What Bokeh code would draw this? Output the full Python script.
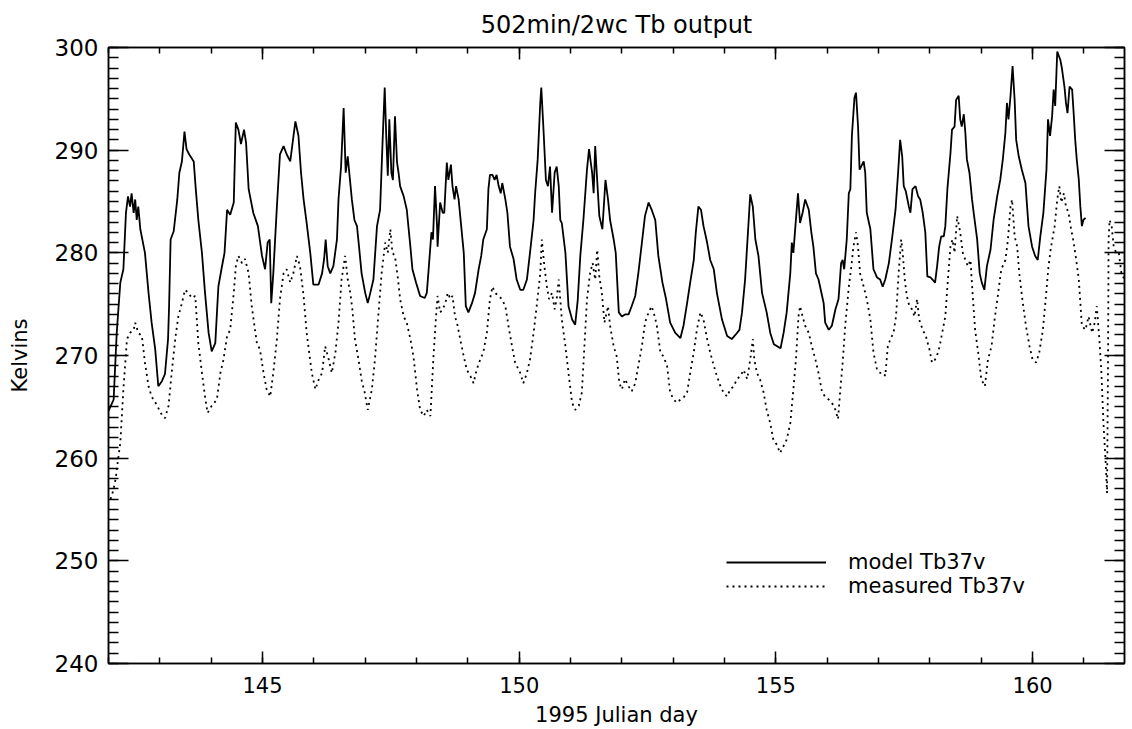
from bokeh.plotting import figure
from bokeh.models import (Range1d, LinearAxis, SingleIntervalTicker, Legend, LegendItem,
                          CustomLabelingPolicy)
from bokeh.embed import file_html
from bokeh.resources import INLINE

# ---------------- data ----------------
model_day = [
    142.00, 142.10, 142.16, 142.23, 142.29, 142.34, 142.38, 142.42, 142.45, 142.49, 142.52, 142.55, 142.58, 142.62,
    142.71, 142.78, 142.84, 142.91, 142.97, 143.04, 143.10, 143.16, 143.18, 143.21, 143.27, 143.34, 143.38, 143.43,
    143.48, 143.52, 143.57, 143.66, 143.70, 143.75, 143.82, 143.88, 143.95, 144.01, 144.08, 144.14, 144.20, 144.26,
    144.31, 144.37, 144.44, 144.48, 144.53, 144.58, 144.64, 144.68, 144.73, 144.82, 144.91, 144.99, 145.05, 145.10,
    145.14, 145.17, 145.21, 145.28, 145.34, 145.41, 145.47, 145.54, 145.64, 145.70, 145.75, 145.80, 145.86, 145.93,
    145.99, 146.09, 146.16, 146.20, 146.23, 146.27, 146.32, 146.38, 146.45,
    146.48, 146.53, 146.58, 146.62, 146.66, 146.69, 146.74, 146.79, 146.84, 146.88, 146.93, 147.00, 147.05, 147.10,
    147.16, 147.23, 147.29, 147.34, 147.38, 147.41, 147.44, 147.47, 147.51, 147.54, 147.58, 147.62, 147.65, 147.68,
    147.75, 147.81, 147.88, 147.92, 147.99, 148.07, 148.16, 148.20, 148.23, 148.29, 148.32, 148.36, 148.40, 148.41,
    148.46, 148.51, 148.54, 148.59, 148.62, 148.67, 148.70, 148.74, 148.77, 148.82, 148.87, 148.92, 148.96, 149.01,
    149.08, 149.14, 149.21, 149.26, 149.30, 149.37, 149.40, 149.43, 149.48, 149.52, 149.56, 149.60, 149.64, 149.67,
    149.73, 149.77, 149.82, 149.89, 149.95, 150.02, 150.08, 150.15, 150.21, 150.28, 150.31, 150.36, 150.41, 150.43,
    150.47, 150.52, 150.56, 150.60, 150.64, 150.69, 150.73, 150.77, 150.80, 150.83, 150.90, 150.96, 151.03, 151.09,
    151.14,
    151.19, 151.25, 151.32, 151.36, 151.42, 151.45, 151.48, 151.51, 151.56, 151.62, 151.68, 151.73, 151.77, 151.84,
    151.88, 151.94, 152.00, 152.06, 152.13, 152.19, 152.26, 152.32, 152.39, 152.45, 152.52, 152.58, 152.65, 152.71,
    152.79, 152.86, 152.94, 153.04, 153.14, 153.20, 153.27, 153.33, 153.40, 153.44, 153.49, 153.54, 153.59, 153.66,
    153.72, 153.79, 153.85, 153.95, 154.05, 154.14, 154.21, 154.29, 154.34, 154.40, 154.47, 154.50, 154.55, 154.60,
    154.66, 154.73, 154.82, 154.89, 154.96, 155.09, 155.15, 155.21, 155.28, 155.31, 155.34, 155.38, 155.43, 155.47,
    155.52, 155.57, 155.64, 155.69, 155.73, 155.78,
    155.83, 155.90, 155.93, 155.96, 156.03, 156.09, 156.16, 156.22, 156.27, 156.30, 156.33, 156.38, 156.42, 156.45,
    156.48, 156.53, 156.56, 156.60, 156.63, 156.66, 156.71, 156.74, 156.77, 156.84, 156.90, 156.97, 157.03, 157.08,
    157.13, 157.20, 157.26, 157.33, 157.38, 157.42, 157.46, 157.49, 157.53, 157.59, 157.62, 157.66, 157.72, 157.77,
    157.81, 157.86, 157.91, 157.95, 158.01, 158.05, 158.10, 158.14, 158.18, 158.22, 158.27, 158.30, 158.34, 158.40,
    158.43, 158.48, 158.51, 158.56, 158.59, 158.62, 158.66, 158.69, 158.72, 158.77, 158.82, 158.86, 158.92, 158.97,
    159.01, 159.06, 159.11, 159.18, 159.24, 159.31, 159.37, 159.42, 159.47, 159.50, 159.53, 159.57, 159.61, 159.65,
    159.68, 159.73, 159.79, 159.86, 159.92, 159.99, 160.05, 160.10, 160.15, 160.21, 160.27, 160.30, 160.34, 160.38,
    160.41, 160.44, 160.48, 160.51, 160.54, 160.57, 160.62, 160.65, 160.68, 160.72, 160.77, 160.80, 160.83, 160.86,
    160.90, 160.93, 160.96, 160.99, 161.03,
]
model_tb = [
    264.6, 265.7, 272.2, 277.1, 278.4, 283.9, 285.5, 284.5, 285.8, 283.9, 285.2, 283.2, 284.5, 282.3,
    280.0, 276.1, 273.2, 270.6, 267.0, 267.5, 268.2, 271.6, 274.8, 281.3, 282.1, 285.2, 287.8, 288.9,
    291.8, 290.1, 289.6, 288.9, 286.2, 283.2, 280.0, 276.1, 272.2, 270.4, 271.2, 276.7, 278.4, 280.0,
    284.2, 283.7, 284.9, 292.7, 292.0, 290.6, 292.0, 290.7, 286.2, 283.9, 282.6, 279.7, 278.4, 281.0,
    281.3, 275.1, 278.0, 284.5, 289.6, 290.4, 289.6, 288.9, 292.8, 291.4, 287.8, 285.2, 282.9, 280.0,
    276.9, 276.9, 278.0, 279.4, 281.3, 278.7, 278.0, 278.7, 281.3,
    285.2, 288.4, 294.1, 287.8, 289.4, 287.8, 285.2, 283.2, 282.6, 280.6, 278.0, 276.1, 275.1, 276.1,
    277.4, 282.6, 284.2, 291.0, 296.1, 291.4, 287.5, 293.0, 287.8, 287.1, 293.3, 288.8, 287.8, 286.5,
    285.5, 284.2, 280.6, 278.4, 277.1, 275.8, 275.6, 276.1, 278.0, 282.0, 281.3, 286.5, 282.6, 280.6,
    284.9, 283.9, 283.9, 288.8, 287.1, 288.6, 286.5, 285.2, 286.5, 285.2, 282.6, 280.0, 274.8, 274.2,
    275.1, 276.1, 278.4, 279.7, 281.3, 282.3, 286.2, 287.6, 287.6, 287.1, 287.6, 286.5, 285.8, 286.8,
    285.2, 283.9, 280.6, 279.4, 277.4, 276.4, 276.4, 277.4, 280.0, 283.2, 285.8, 289.1, 294.6, 296.1,
    292.3, 287.1, 286.5, 288.4, 283.9, 287.8, 288.4, 286.5, 283.2, 282.9, 280.0, 274.8, 273.5, 273.0,
    275.4,
    279.7, 283.2, 288.1, 290.1, 287.8, 285.8, 290.4, 287.8, 283.6, 282.3, 287.1, 285.2, 283.2, 281.3,
    280.0, 274.2, 273.8, 274.0, 274.0, 274.8, 275.8, 278.0, 281.0, 283.6, 284.9, 284.2, 283.2, 279.7,
    277.1, 275.5, 273.2, 272.2, 271.7, 272.9, 275.1, 277.1, 279.3, 282.0, 284.5, 284.2, 282.6, 281.0,
    279.3, 278.4, 276.1, 273.5, 271.9, 271.6, 272.0, 272.5, 274.2, 277.4, 283.2, 285.7, 284.5, 281.3,
    279.7, 276.1, 274.2, 272.2, 271.1, 270.7, 272.2, 274.2, 278.0, 281.0, 280.0, 282.6, 285.8, 282.9,
    283.9, 285.2, 284.2, 282.0, 280.6, 278.0,
    277.4, 275.8, 275.1, 273.2, 272.5, 272.9, 274.5, 275.5, 279.0, 279.3, 278.4, 281.3, 285.8, 286.2,
    291.4, 295.1, 295.6, 292.3, 288.1, 288.4, 288.9, 287.8, 283.9, 282.3, 278.4, 277.6, 277.4, 276.7,
    277.4, 279.0, 281.3, 284.2, 287.8, 291.0, 289.4, 286.5, 286.0, 284.5, 283.9, 286.2, 286.5, 285.5,
    285.2, 283.9, 282.0, 277.7, 277.6, 277.4, 277.1, 278.7, 280.6, 281.6, 281.6, 282.6, 286.2, 289.7,
    292.0, 292.3, 294.9, 295.3, 293.0, 292.3, 293.5, 291.7, 289.1, 287.8, 285.2, 283.6, 281.3, 278.0,
    277.1, 276.4, 278.7, 280.3, 283.2, 285.5, 287.1, 289.1, 291.7, 294.6, 293.0, 295.3, 298.2, 294.9,
    291.0, 289.4, 288.1, 286.8, 282.6, 280.6, 279.7, 279.3, 281.6, 283.9, 288.1, 293.0, 291.4, 293.3,
    295.9, 294.3, 299.6, 299.2, 298.8, 298.0, 296.2, 294.6, 293.6, 296.2, 295.9, 293.6, 291.0, 289.1,
    287.1, 284.5, 282.6, 283.2, 283.4,
]

meas_day = [
    142.04, 142.09, 142.14, 142.19, 142.23, 142.29, 142.36, 142.42, 142.49, 142.52, 142.58, 142.65, 142.71, 142.78,
    142.84, 142.94, 143.04, 143.10, 143.17, 143.23, 143.30, 143.36, 143.43, 143.49, 143.56, 143.62, 143.69, 143.75,
    143.82, 143.88, 143.93, 144.01, 144.11, 144.18, 144.24, 144.31, 144.37, 144.44, 144.48, 144.53, 144.60, 144.66,
    144.73, 144.79, 144.89, 144.95, 145.02, 145.08, 145.15, 145.21, 145.28, 145.34, 145.41, 145.47, 145.54, 145.60,
    145.67, 145.73, 145.80, 145.86, 145.96, 146.03, 146.09, 146.16, 146.22, 146.29, 146.35, 146.42,
    146.48, 146.54, 146.61, 146.66, 146.71, 146.75, 146.80, 146.87, 146.93, 146.99, 147.05, 147.13, 147.19, 147.26,
    147.32, 147.39, 147.44, 147.49, 147.53, 147.58, 147.64, 147.68, 147.75, 147.81, 147.88, 147.94, 148.01, 148.07,
    148.14, 148.20, 148.27, 148.33, 148.38, 148.41, 148.46, 148.51, 148.56, 148.61, 148.66, 148.70, 148.75, 148.80,
    148.85, 148.92, 148.98, 149.05, 149.11, 149.17, 149.24, 149.30, 149.37, 149.43, 149.48, 149.53, 149.60, 149.66,
    149.73, 149.79, 149.86, 149.92, 150.02, 150.08, 150.15, 150.21, 150.28, 150.34, 150.41, 150.44, 150.49, 150.54,
    150.58, 150.64, 150.69, 150.73, 150.77, 150.83, 150.90, 150.96, 151.03, 151.09,
    151.16, 151.22, 151.27, 151.32, 151.38, 151.43, 151.48, 151.52, 151.56, 151.61, 151.66, 151.73, 151.77, 151.84,
    151.90, 151.95, 152.00, 152.06, 152.13, 152.19, 152.26, 152.32, 152.39, 152.45, 152.52, 152.58, 152.64, 152.68,
    152.75, 152.81, 152.88, 152.94, 153.01, 153.07, 153.14, 153.20, 153.27, 153.33, 153.40, 153.46, 153.53, 153.59,
    153.66, 153.72, 153.79, 153.85, 153.92, 153.98, 154.05, 154.11, 154.18, 154.24, 154.31, 154.37, 154.44, 154.50,
    154.55, 154.58, 154.63, 154.69, 154.76, 154.82, 154.89, 154.95, 155.02, 155.08, 155.15, 155.21, 155.28, 155.34,
    155.39, 155.44, 155.47, 155.52, 155.57, 155.64, 155.70, 155.77,
    155.83, 155.90, 155.96, 156.03, 156.09, 156.16, 156.21, 156.25, 156.30, 156.35, 156.42, 156.47, 156.51, 156.56,
    156.60, 156.64, 156.71, 156.77, 156.84, 156.90, 156.97, 157.03, 157.10, 157.13, 157.18, 157.23, 157.29, 157.34,
    157.39, 157.44, 157.47, 157.51, 157.55, 157.60, 157.65, 157.70, 157.75, 157.79, 157.86, 157.92, 157.99, 158.04,
    158.10, 158.16, 158.20, 158.25, 158.30, 158.35, 158.40, 158.44, 158.48, 158.53, 158.59, 158.64, 158.69, 158.74,
    158.79, 158.83, 158.88, 158.94, 159.00, 159.07, 159.13, 159.20, 159.26, 159.33, 159.39, 159.47, 159.52, 159.57,
    159.60, 159.65, 159.70, 159.74, 159.81, 159.87, 159.94, 160.00, 160.07, 160.13, 160.20, 160.26, 160.31, 160.36,
    160.43, 160.48, 160.52, 160.56, 160.61, 160.65, 160.70, 160.75, 160.80, 160.85, 160.90, 160.96, 161.03, 161.09,
    161.16, 161.21, 161.25, 161.30, 161.34, 161.38, 161.42, 161.45, 161.47, 161.48, 161.50, 161.54, 161.58, 161.63,
    161.68, 161.73, 161.79, 161.84, 161.90,
]
meas_tb = [
    256.0, 256.8, 258.0, 260.0, 261.5, 266.7, 271.6, 272.2, 272.5, 273.2, 272.2, 271.9, 269.3, 267.0,
    266.0, 265.2, 264.2, 263.9, 265.1, 268.3, 271.6, 273.8, 275.1, 276.4, 276.1, 275.6, 275.8, 271.2,
    268.3, 266.0, 264.4, 265.1, 265.7, 268.3, 269.6, 271.9, 272.5, 276.1, 278.7, 279.7, 279.0, 279.4,
    278.0, 274.8, 271.2, 270.6, 268.3, 266.7, 266.0, 268.3, 271.6, 275.5, 278.0, 278.4, 277.1, 278.0,
    279.7, 278.7, 275.8, 272.2, 268.3, 266.7, 267.6, 268.3, 270.9, 269.6, 268.3, 270.3,
    273.2, 277.4, 279.7, 277.4, 276.1, 274.5, 271.6, 269.6, 267.6, 266.4, 264.7, 266.7, 269.6, 274.2,
    278.0, 281.0, 280.0, 282.3, 280.0, 279.7, 277.4, 275.5, 273.8, 273.2, 271.6, 269.9, 266.7, 264.7,
    264.1, 264.7, 264.1, 269.9, 273.8, 275.8, 274.2, 274.5, 275.1, 276.1, 275.5, 275.8, 273.8, 272.9,
    271.6, 269.9, 268.6, 268.0, 267.3, 268.6, 269.6, 270.3, 272.2, 275.5, 276.7, 276.1, 275.8, 275.5,
    274.8, 272.9, 270.9, 269.3, 268.3, 267.3, 268.3, 269.6, 272.2, 274.8, 278.0, 281.3, 278.7, 276.7,
    275.5, 276.1, 274.5, 275.5, 277.4, 273.5, 270.9, 268.3, 265.4, 264.7,
    265.1, 266.4, 270.9, 275.5, 278.0, 279.0, 277.4, 280.3, 277.7, 276.1, 273.2, 274.8, 272.9, 270.9,
    269.9, 267.3, 266.7, 267.7, 267.0, 266.5, 267.3, 269.0, 270.9, 273.2, 274.2, 274.8, 273.8, 272.9,
    270.3, 269.9, 269.0, 266.4, 265.7, 265.4, 265.7, 265.9, 266.4, 268.3, 270.3, 272.5, 274.2, 273.5,
    271.6, 270.3, 269.0, 268.0, 267.0, 266.4, 266.0, 266.7, 267.0, 267.7, 268.0, 268.6, 267.7, 269.6,
    271.6, 269.6, 268.3, 267.7, 266.4, 264.7, 263.4, 261.8, 261.3, 260.5, 261.2, 261.8, 263.4, 266.7,
    269.6, 273.8, 274.8, 273.8, 272.9, 272.2, 270.9, 269.6,
    268.3, 266.4, 266.0, 265.7, 265.4, 264.7, 263.8, 266.4, 269.3, 272.9, 276.7, 278.7, 280.6, 282.0,
    280.6, 278.0, 276.7, 275.5, 273.5, 270.3, 268.6, 268.3, 268.3, 268.0, 270.9, 271.6, 272.2, 273.8,
    278.0, 281.3, 280.0, 277.4, 275.8, 274.8, 274.5, 273.8, 275.5, 273.5, 272.5, 271.9, 270.6, 269.3,
    269.6, 270.3, 271.2, 272.5, 273.8, 277.4, 280.6, 281.3, 280.0, 283.6, 282.0, 280.0, 279.3, 278.7,
    279.3, 276.1, 272.5, 270.3, 267.7, 267.0, 269.6, 270.9, 273.5, 276.1, 278.4, 279.3, 281.3, 284.5,
    285.2, 281.6, 280.6, 278.0, 275.1, 272.9, 270.9, 269.6, 269.3, 270.3, 272.5, 275.8, 278.7, 280.6,
    282.6, 285.2, 286.5, 284.9, 285.8, 284.5, 283.9, 282.3, 281.0, 279.3, 277.4, 272.9, 272.5, 273.8,
    272.2, 273.2, 274.8, 271.6, 268.3, 263.4, 259.9, 256.6, 270.0, 281.3, 283.2, 282.6, 280.6, 280.0,
    280.0, 278.0, 277.4, 276.7, 277.1,
]

x_ticks_major = 5
y_ticks_major = 10
title_text = "502min/2wc Tb output"
x_label = "1995 Julian day"
y_label = "Kelvins"
series_names = ["model Tb37v", "measured Tb37v"]

FONT = "DejaVu Sans"

p = figure(
    frame_width=1016, frame_height=616,
    x_range=Range1d(142, 161.79), y_range=Range1d(240, 300),
    output_backend="svg", toolbar_location=None,
    min_border_left=108, min_border_top=47, min_border_right=0, min_border_bottom=62,
    x_axis_type=None, y_axis_type=None,
    background_fill_color="white", border_fill_color="white",
)
p.grid.visible = False
p.outline_line_color = "black"
p.outline_line_width = 1.5

p.title.text = title_text
p.title.align = "center"
p.title.text_font = FONT
p.title.text_font_size = "24px"
p.title.text_font_style = "normal"
p.title.text_color = "black"
p.title.standoff = 10

NO_LABELS = CustomLabelingPolicy(code="return new Set()")


def style_axis(ax, show_labels, major_in, minor_in):
    ax.axis_line_color = "black"
    ax.axis_line_width = 1.5
    ax.major_tick_line_color = "black"
    ax.minor_tick_line_color = "black"
    ax.major_tick_line_width = 1.5
    ax.minor_tick_line_width = 1.5
    ax.major_tick_in = major_in
    ax.major_tick_out = 0
    ax.minor_tick_in = minor_in
    ax.minor_tick_out = 0
    if show_labels:
        ax.major_label_text_font = FONT
        ax.major_label_text_color = "black"
        ax.axis_label_text_font = FONT
        ax.axis_label_text_font_style = "normal"
        ax.axis_label_text_color = "black"
    else:
        ax.major_label_policy = NO_LABELS
        ax.major_label_standoff = 0
        ax.major_label_text_font_size = "1px"


xb = LinearAxis(ticker=SingleIntervalTicker(interval=x_ticks_major, num_minor_ticks=5), axis_label=x_label)
style_axis(xb, True, 12, 6)
xb.major_label_text_font_size = "21px"
xb.axis_label_text_font_size = "21px"
xb.major_label_standoff = 13
xb.axis_label_standoff = 7
p.add_layout(xb, "below")

xt = LinearAxis(ticker=SingleIntervalTicker(interval=x_ticks_major, num_minor_ticks=5))
style_axis(xt, False, 12, 6)
p.add_layout(xt, "above")

yl = LinearAxis(ticker=SingleIntervalTicker(interval=y_ticks_major, num_minor_ticks=10), axis_label=y_label)
style_axis(yl, True, 20, 10)
yl.major_label_text_font_size = "23px"
yl.axis_label_text_font_size = "21px"
yl.major_label_standoff = 10
yl.axis_label_standoff = 20
p.add_layout(yl, "left")

yr = LinearAxis(ticker=SingleIntervalTicker(interval=y_ticks_major, num_minor_ticks=10))
style_axis(yr, False, 20, 10)
p.add_layout(yr, "right")

r_model = p.line(model_day, model_tb, line_color="black", line_width=1.8)
r_meas = p.line(meas_day, meas_tb, line_color="black", line_width=1.8, line_dash="2 4")

legend = Legend(
    items=[LegendItem(label=series_names[0], renderers=[r_model]),
           LegendItem(label=series_names[1], renderers=[r_meas])],
    location=(618, 65),
    glyph_width=100, glyph_height=20, label_height=20,
    label_standoff=22, spacing=0, padding=0, margin=0,
    border_line_color=None, background_fill_alpha=0,
    label_text_font=FONT, label_text_font_size="21px", label_text_color="black",
)
p.add_layout(legend, "center")

open("out.html", "w").write(file_html(p, INLINE))
